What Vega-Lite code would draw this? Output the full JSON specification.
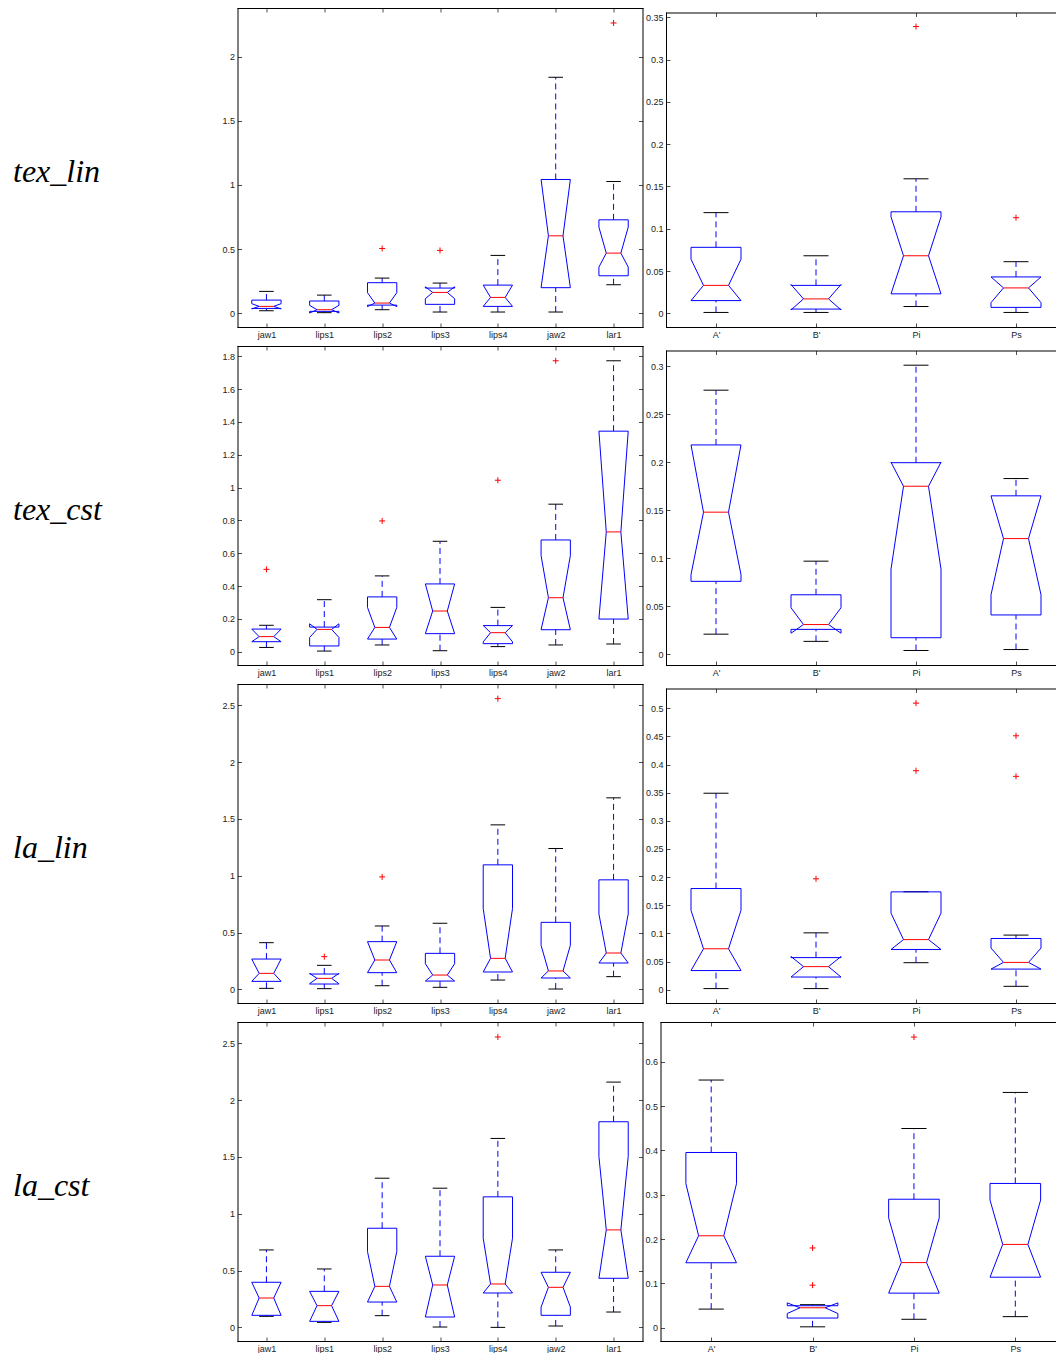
{
"$schema": "https://vega.github.io/schema/vega-lite/v6.json",
"padding": {"left": 12.5, "top": 7, "right": 0, "bottom": 0},
"background": "white",
"config": {
 "view": {"stroke": null},
 "axis": {"domain": true, "domainColor": "#000000", "domainWidth": 1, "domainCap": "square", "grid": false, "tickSize": -4, "tickColor": "#222222", "tickWidth": 0.8, "labelPadding": 7, "labelFont": "Liberation Sans", "labelFontSize": 9, "labelColor": "#222222", "labelAngle": 0, "labelOverlap": false, "labelSeparation": 0},
 "rule": {"strokeWidth": 1}
},
"datasets": {
 "b": [
  {"p":"tl_L","n":"jaw1","lo":0.018,"q1":0.036,"nlo":0.032,"med":0.052,"nhi":0.073,"q3":0.101,"hi":0.169},
  {"p":"tl_L","n":"lips1","lo":0.003,"q1":0.013,"nlo":0.0,"med":0.026,"nhi":0.06,"q3":0.094,"hi":0.14},
  {"p":"tl_L","n":"lips2","lo":0.026,"q1":0.062,"nlo":0.05,"med":0.078,"nhi":0.159,"q3":0.237,"hi":0.273},
  {"p":"tl_L","n":"lips3","lo":0.008,"q1":0.068,"nlo":0.112,"med":0.161,"nhi":0.205,"q3":0.195,"hi":0.234},
  {"p":"tl_L","n":"lips4","lo":0.008,"q1":0.052,"nlo":0.052,"med":0.122,"nhi":0.218,"q3":0.218,"hi":0.45},
  {"p":"tl_L","n":"jaw2","lo":0.008,"q1":0.198,"nlo":0.198,"med":0.603,"nhi":1.043,"q3":1.043,"hi":1.841},
  {"p":"tl_L","n":"lar1","lo":0.221,"q1":0.291,"nlo":0.359,"med":0.468,"nhi":0.671,"q3":0.728,"hi":1.027},
  {"p":"tl_R","n":"A'","lo":0.001,"q1":0.015,"nlo":0.015,"med":0.033,"nhi":0.064,"q3":0.078,"hi":0.119},
  {"p":"tl_R","n":"B'","lo":0.001,"q1":0.005,"nlo":0.004,"med":0.017,"nhi":0.034,"q3":0.033,"hi":0.068},
  {"p":"tl_R","n":"Pi","lo":0.008,"q1":0.023,"nlo":0.023,"med":0.068,"nhi":0.114,"q3":0.12,"hi":0.159},
  {"p":"tl_R","n":"Ps","lo":0.001,"q1":0.007,"nlo":0.0126,"med":0.03,"nhi":0.043,"q3":0.043,"hi":0.061},
  {"p":"tc_L","n":"jaw1","lo":0.026,"q1":0.061,"nlo":0.061,"med":0.092,"nhi":0.138,"q3":0.138,"hi":0.161},
  {"p":"tc_L","n":"lips1","lo":0.004,"q1":0.035,"nlo":0.087,"med":0.136,"nhi":0.17,"q3":0.15,"hi":0.317},
  {"p":"tc_L","n":"lips2","lo":0.041,"q1":0.077,"nlo":0.077,"med":0.148,"nhi":0.27,"q3":0.334,"hi":0.462},
  {"p":"tc_L","n":"lips3","lo":0.006,"q1":0.11,"nlo":0.11,"med":0.248,"nhi":0.413,"q3":0.413,"hi":0.673},
  {"p":"tc_L","n":"lips4","lo":0.031,"q1":0.049,"nlo":0.06,"med":0.116,"nhi":0.16,"q3":0.159,"hi":0.27},
  {"p":"tc_L","n":"jaw2","lo":0.041,"q1":0.134,"nlo":0.134,"med":0.329,"nhi":0.586,"q3":0.681,"hi":0.899},
  {"p":"tc_L","n":"lar1","lo":0.047,"q1":0.199,"nlo":0.199,"med":0.73,"nhi":1.344,"q3":1.344,"hi":1.773},
  {"p":"tc_R","n":"A'","lo":0.021,"q1":0.076,"nlo":0.083,"med":0.148,"nhi":0.218,"q3":0.218,"hi":0.275},
  {"p":"tc_R","n":"B'","lo":0.0135,"q1":0.026,"nlo":0.022,"med":0.031,"nhi":0.0485,"q3":0.062,"hi":0.097},
  {"p":"tc_R","n":"Pi","lo":0.004,"q1":0.0173,"nlo":0.0887,"med":0.175,"nhi":0.2,"q3":0.1995,"hi":0.301},
  {"p":"tc_R","n":"Ps","lo":0.005,"q1":0.041,"nlo":0.062,"med":0.1205,"nhi":0.165,"q3":0.165,"hi":0.183},
  {"p":"ll_L","n":"jaw1","lo":0.009,"q1":0.0705,"nlo":0.0705,"med":0.141,"nhi":0.267,"q3":0.267,"hi":0.411},
  {"p":"ll_L","n":"lips1","lo":0.006,"q1":0.047,"nlo":0.05,"med":0.097,"nhi":0.14,"q3":0.135,"hi":0.2115},
  {"p":"ll_L","n":"lips2","lo":0.032,"q1":0.147,"nlo":0.147,"med":0.2585,"nhi":0.42,"q3":0.42,"hi":0.558},
  {"p":"ll_L","n":"lips3","lo":0.018,"q1":0.073,"nlo":0.073,"med":0.126,"nhi":0.226,"q3":0.317,"hi":0.582},
  {"p":"ll_L","n":"lips4","lo":0.082,"q1":0.153,"nlo":0.153,"med":0.273,"nhi":0.711,"q3":1.096,"hi":1.448},
  {"p":"ll_L","n":"jaw2","lo":0.003,"q1":0.1,"nlo":0.1,"med":0.162,"nhi":0.388,"q3":0.59,"hi":1.24},
  {"p":"ll_L","n":"lar1","lo":0.112,"q1":0.232,"nlo":0.232,"med":0.32,"nhi":0.664,"q3":0.964,"hi":1.686},
  {"p":"ll_R","n":"A'","lo":0.002,"q1":0.034,"nlo":0.034,"med":0.0727,"nhi":0.141,"q3":0.1797,"hi":0.349},
  {"p":"ll_R","n":"B'","lo":0.002,"q1":0.0225,"nlo":0.0225,"med":0.041,"nhi":0.059,"q3":0.057,"hi":0.101},
  {"p":"ll_R","n":"Pi","lo":0.048,"q1":0.0715,"nlo":0.0715,"med":0.089,"nhi":0.136,"q3":0.1738,"hi":0.174},
  {"p":"ll_R","n":"Ps","lo":0.006,"q1":0.0366,"nlo":0.0366,"med":0.0485,"nhi":0.074,"q3":0.091,"hi":0.097},
  {"p":"lc_L","n":"jaw1","lo":0.097,"q1":0.106,"nlo":0.106,"med":0.2585,"nhi":0.397,"q3":0.397,"hi":0.6815},
  {"p":"lc_L","n":"lips1","lo":0.044,"q1":0.053,"nlo":0.053,"med":0.191,"nhi":0.317,"q3":0.317,"hi":0.514},
  {"p":"lc_L","n":"lips2","lo":0.103,"q1":0.223,"nlo":0.223,"med":0.361,"nhi":0.667,"q3":0.8725,"hi":1.313},
  {"p":"lc_L","n":"lips3","lo":0.003,"q1":0.091,"nlo":0.091,"med":0.373,"nhi":0.626,"q3":0.626,"hi":1.225},
  {"p":"lc_L","n":"lips4","lo":0.0,"q1":0.3026,"nlo":0.3026,"med":0.382,"nhi":0.784,"q3":1.149,"hi":1.663},
  {"p":"lc_L","n":"jaw2","lo":0.012,"q1":0.106,"nlo":0.179,"med":0.3525,"nhi":0.485,"q3":0.485,"hi":0.6815},
  {"p":"lc_L","n":"lar1","lo":0.135,"q1":0.432,"nlo":0.432,"med":0.858,"nhi":1.504,"q3":1.81,"hi":2.159},
  {"p":"lc_R","n":"A'","lo":0.042,"q1":0.1466,"nlo":0.1466,"med":0.2075,"nhi":0.325,"q3":0.3955,"hi":0.559},
  {"p":"lc_R","n":"B'","lo":0.002,"q1":0.0218,"nlo":0.032,"med":0.045,"nhi":0.056,"q3":0.0496,"hi":0.052},
  {"p":"lc_R","n":"Pi","lo":0.019,"q1":0.078,"nlo":0.078,"med":0.147,"nhi":0.248,"q3":0.29,"hi":0.4496},
  {"p":"lc_R","n":"Ps","lo":0.025,"q1":0.114,"nlo":0.114,"med":0.188,"nhi":0.288,"q3":0.3256,"hi":0.531}
 ],
 "o": [
  {"p":"tl_L","n":"lips2","v":0.504},
  {"p":"tl_L","n":"lips3","v":0.489},
  {"p":"tl_L","n":"lar1","v":2.265},
  {"p":"tl_R","n":"Pi","v":0.339},
  {"p":"tl_R","n":"Ps","v":0.113},
  {"p":"tc_L","n":"jaw1","v":0.502},
  {"p":"tc_L","n":"lips2","v":0.797},
  {"p":"tc_L","n":"lips4","v":1.045},
  {"p":"tc_L","n":"jaw2","v":1.773},
  {"p":"ll_L","n":"lips1","v":0.288},
  {"p":"ll_L","n":"lips2","v":0.99},
  {"p":"ll_L","n":"lips4","v":2.559},
  {"p":"ll_R","n":"B'","v":0.197},
  {"p":"ll_R","n":"Pi","v":0.509},
  {"p":"ll_R","n":"Pi","v":0.389},
  {"p":"ll_R","n":"Ps","v":0.451},
  {"p":"ll_R","n":"Ps","v":0.379},
  {"p":"lc_L","n":"lips4","v":2.556},
  {"p":"lc_R","n":"B'","v":0.18},
  {"p":"lc_R","n":"B'","v":0.096},
  {"p":"lc_R","n":"Pi","v":0.656}
 ]
},
"bounds": "flush",
"columns": 2,
"spacing": {"row": 19, "column": 23.5},
"concat": [
   {"width": 405, "height": 319, "data": {"name": "b"}, "transform": [{"filter": "datum.p === 'tl_L'"}],
    "layer": [
     {"encoding": {"x": {"field": "n", "type": "nominal", "scale": {"type": "point", "padding": 0.5, "domain": ["jaw1","lips1","lips2","lips3","lips4","jaw2","lar1"]}, "axis": {"title": null, "orient": "bottom"}}},
      "layer": [
       {"mark": {"type": "rule", "color": "#0000ff", "strokeDash": [6,4]}, "encoding": {"y": {"field": "lo", "type": "quantitative", "scale": {"domain": [-0.109, 2.382], "nice": false, "zero": false}, "axis": {"values": [0,0.5,1,1.5,2], "tickCount": 30, "format": "~g", "title": "tex_lin", "titleAngle": 0, "titleAlign": "left", "titleBaseline": "alphabetic", "titleX": -225, "titleY": 173.5, "titleFont": "Liberation Serif", "titleFontStyle": "italic", "titleFontWeight": "normal", "titleFontSize": 32, "titleColor": "#000000"}}, "y2": {"field": "q1"}}},
       {"mark": {"type": "rule", "color": "#0000ff", "strokeDash": [6,4]}, "encoding": {"y": {"field": "q3", "type": "quantitative"}, "y2": {"field": "hi"}}},
       {"mark": {"type": "rule", "color": "#000000", "xOffset": -7.3, "x2Offset": 7.3}, "encoding": {"y": {"field": "lo", "type": "quantitative"}, "x2": {"field": "n"}}},
       {"mark": {"type": "rule", "color": "#000000", "xOffset": -7.3, "x2Offset": 7.3}, "encoding": {"y": {"field": "hi", "type": "quantitative"}, "x2": {"field": "n"}}},
       {"mark": {"type": "rule", "color": "#0000ff", "xOffset": -14.65}, "encoding": {"y": {"field": "q1", "type": "quantitative"}, "y2": {"field": "nlo"}}},
       {"mark": {"type": "rule", "color": "#0000ff", "xOffset": 14.65}, "encoding": {"y": {"field": "q1", "type": "quantitative"}, "y2": {"field": "nlo"}}},
       {"mark": {"type": "rule", "color": "#0000ff", "xOffset": -14.65, "x2Offset": -7.3}, "encoding": {"y": {"field": "nlo", "type": "quantitative"}, "y2": {"field": "med"}, "x2": {"field": "n"}}},
       {"mark": {"type": "rule", "color": "#0000ff", "xOffset": 14.65, "x2Offset": 7.3}, "encoding": {"y": {"field": "nlo", "type": "quantitative"}, "y2": {"field": "med"}, "x2": {"field": "n"}}},
       {"mark": {"type": "rule", "color": "#0000ff", "xOffset": -7.3, "x2Offset": -14.65}, "encoding": {"y": {"field": "med", "type": "quantitative"}, "y2": {"field": "nhi"}, "x2": {"field": "n"}}},
       {"mark": {"type": "rule", "color": "#0000ff", "xOffset": 7.3, "x2Offset": 14.65}, "encoding": {"y": {"field": "med", "type": "quantitative"}, "y2": {"field": "nhi"}, "x2": {"field": "n"}}},
       {"mark": {"type": "rule", "color": "#0000ff", "xOffset": -14.65}, "encoding": {"y": {"field": "nhi", "type": "quantitative"}, "y2": {"field": "q3"}}},
       {"mark": {"type": "rule", "color": "#0000ff", "xOffset": 14.65}, "encoding": {"y": {"field": "nhi", "type": "quantitative"}, "y2": {"field": "q3"}}},
       {"mark": {"type": "rule", "color": "#0000ff", "xOffset": -14.65, "x2Offset": 14.65}, "encoding": {"y": {"field": "q1", "type": "quantitative"}, "x2": {"field": "n"}}},
       {"mark": {"type": "rule", "color": "#0000ff", "xOffset": -14.65, "x2Offset": 14.65}, "encoding": {"y": {"field": "q3", "type": "quantitative"}, "x2": {"field": "n"}}},
       {"mark": {"type": "rule", "color": "#ff0000", "xOffset": -7.3, "x2Offset": 7.3}, "encoding": {"y": {"field": "med", "type": "quantitative"}, "x2": {"field": "n"}}},
       {"data": {"name": "o"}, "transform": [{"filter": "datum.p === 'tl_L'"}], "mark": {"type": "point", "shape": "M-1,0L1,0M0,-1L0,1", "size": 36, "filled": false, "color": "#ff0000", "strokeWidth": 1, "opacity": 1}, "encoding": {"y": {"field": "v", "type": "quantitative"}}}
      ]},
     {"mark": {"type": "point", "opacity": 0}, "encoding": {"x": {"field": "n", "type": "nominal", "axis": {"orient": "top", "labels": false, "title": null}}, "y": {"field": "med", "type": "quantitative", "axis": {"orient": "right", "labels": false, "title": null, "tickCount": 30, "values": [0,0.5,1,1.5,2]}}}}
    ],
    "resolve": {"axis": {"x": "independent", "y": "independent"}}},
    {"width": 391, "height": 319, "data": {"name": "b"}, "transform": [{"filter": "datum.p === 'tl_R'"}],
     "layer": [
      {"encoding": {"x": {"field": "n", "type": "nominal", "scale": {"type": "point", "padding": 0.5, "range": [0, 400], "domain": ["A'","B'","Pi","Ps"]}, "axis": {"title": null, "orient": "bottom"}}},
       "layer": [
        {"mark": {"type": "rule", "color": "#0000ff", "strokeDash": [6,4]}, "encoding": {"y": {"field": "lo", "type": "quantitative", "scale": {"domain": [-0.0162, 0.3556], "range": [319, 4.5], "nice": false, "zero": false}, "axis": {"values": [0,0.05,0.1,0.15,0.2,0.25,0.3,0.35], "tickCount": 30, "format": "~g", "title": null}}, "y2": {"field": "q1"}}},
        {"mark": {"type": "rule", "color": "#0000ff", "strokeDash": [6,4]}, "encoding": {"y": {"field": "q3", "type": "quantitative"}, "y2": {"field": "hi"}}},
        {"mark": {"type": "rule", "color": "#000000", "xOffset": -12.5, "x2Offset": 12.5}, "encoding": {"y": {"field": "lo", "type": "quantitative"}, "x2": {"field": "n"}}},
        {"mark": {"type": "rule", "color": "#000000", "xOffset": -12.5, "x2Offset": 12.5}, "encoding": {"y": {"field": "hi", "type": "quantitative"}, "x2": {"field": "n"}}},
        {"mark": {"type": "rule", "color": "#0000ff", "xOffset": -25}, "encoding": {"y": {"field": "q1", "type": "quantitative"}, "y2": {"field": "nlo"}}},
        {"mark": {"type": "rule", "color": "#0000ff", "xOffset": 25}, "encoding": {"y": {"field": "q1", "type": "quantitative"}, "y2": {"field": "nlo"}}},
        {"mark": {"type": "rule", "color": "#0000ff", "xOffset": -25, "x2Offset": -12.5}, "encoding": {"y": {"field": "nlo", "type": "quantitative"}, "y2": {"field": "med"}, "x2": {"field": "n"}}},
        {"mark": {"type": "rule", "color": "#0000ff", "xOffset": 25, "x2Offset": 12.5}, "encoding": {"y": {"field": "nlo", "type": "quantitative"}, "y2": {"field": "med"}, "x2": {"field": "n"}}},
        {"mark": {"type": "rule", "color": "#0000ff", "xOffset": -12.5, "x2Offset": -25}, "encoding": {"y": {"field": "med", "type": "quantitative"}, "y2": {"field": "nhi"}, "x2": {"field": "n"}}},
        {"mark": {"type": "rule", "color": "#0000ff", "xOffset": 12.5, "x2Offset": 25}, "encoding": {"y": {"field": "med", "type": "quantitative"}, "y2": {"field": "nhi"}, "x2": {"field": "n"}}},
        {"mark": {"type": "rule", "color": "#0000ff", "xOffset": -25}, "encoding": {"y": {"field": "nhi", "type": "quantitative"}, "y2": {"field": "q3"}}},
        {"mark": {"type": "rule", "color": "#0000ff", "xOffset": 25}, "encoding": {"y": {"field": "nhi", "type": "quantitative"}, "y2": {"field": "q3"}}},
        {"mark": {"type": "rule", "color": "#0000ff", "xOffset": -25, "x2Offset": 25}, "encoding": {"y": {"field": "q1", "type": "quantitative"}, "x2": {"field": "n"}}},
        {"mark": {"type": "rule", "color": "#0000ff", "xOffset": -25, "x2Offset": 25}, "encoding": {"y": {"field": "q3", "type": "quantitative"}, "x2": {"field": "n"}}},
        {"mark": {"type": "rule", "color": "#ff0000", "xOffset": -12.5, "x2Offset": 12.5}, "encoding": {"y": {"field": "med", "type": "quantitative"}, "x2": {"field": "n"}}},
        {"data": {"name": "o"}, "transform": [{"filter": "datum.p === 'tl_R'"}], "mark": {"type": "point", "shape": "M-1,0L1,0M0,-1L0,1", "size": 36, "filled": false, "color": "#ff0000", "strokeWidth": 1, "opacity": 1}, "encoding": {"y": {"field": "v", "type": "quantitative"}}}
       ]},
      {"mark": {"type": "point", "opacity": 0}, "encoding": {"x": {"field": "n", "type": "nominal", "axis": {"orient": "top", "labels": false, "title": null, "offset": -4.5}}}}
     ],
     "resolve": {"axis": {"x": "independent", "y": "independent"}}},
   {"width": 405, "height": 319, "data": {"name": "b"}, "transform": [{"filter": "datum.p === 'tc_L'"}],
    "layer": [
     {"encoding": {"x": {"field": "n", "type": "nominal", "scale": {"type": "point", "padding": 0.5, "domain": ["jaw1","lips1","lips2","lips3","lips4","jaw2","lar1"]}, "axis": {"title": null, "orient": "bottom"}}},
      "layer": [
       {"mark": {"type": "rule", "color": "#0000ff", "strokeDash": [6,4]}, "encoding": {"y": {"field": "lo", "type": "quantitative", "scale": {"domain": [-0.081, 1.863], "nice": false, "zero": false}, "axis": {"values": [0,0.2,0.4,0.6,0.8,1,1.2,1.4,1.6,1.8], "tickCount": 30, "format": "~g", "title": "tex_cst", "titleAngle": 0, "titleAlign": "left", "titleBaseline": "alphabetic", "titleX": -225, "titleY": 173.5, "titleFont": "Liberation Serif", "titleFontStyle": "italic", "titleFontWeight": "normal", "titleFontSize": 32, "titleColor": "#000000"}}, "y2": {"field": "q1"}}},
       {"mark": {"type": "rule", "color": "#0000ff", "strokeDash": [6,4]}, "encoding": {"y": {"field": "q3", "type": "quantitative"}, "y2": {"field": "hi"}}},
       {"mark": {"type": "rule", "color": "#000000", "xOffset": -7.3, "x2Offset": 7.3}, "encoding": {"y": {"field": "lo", "type": "quantitative"}, "x2": {"field": "n"}}},
       {"mark": {"type": "rule", "color": "#000000", "xOffset": -7.3, "x2Offset": 7.3}, "encoding": {"y": {"field": "hi", "type": "quantitative"}, "x2": {"field": "n"}}},
       {"mark": {"type": "rule", "color": "#0000ff", "xOffset": -14.65}, "encoding": {"y": {"field": "q1", "type": "quantitative"}, "y2": {"field": "nlo"}}},
       {"mark": {"type": "rule", "color": "#0000ff", "xOffset": 14.65}, "encoding": {"y": {"field": "q1", "type": "quantitative"}, "y2": {"field": "nlo"}}},
       {"mark": {"type": "rule", "color": "#0000ff", "xOffset": -14.65, "x2Offset": -7.3}, "encoding": {"y": {"field": "nlo", "type": "quantitative"}, "y2": {"field": "med"}, "x2": {"field": "n"}}},
       {"mark": {"type": "rule", "color": "#0000ff", "xOffset": 14.65, "x2Offset": 7.3}, "encoding": {"y": {"field": "nlo", "type": "quantitative"}, "y2": {"field": "med"}, "x2": {"field": "n"}}},
       {"mark": {"type": "rule", "color": "#0000ff", "xOffset": -7.3, "x2Offset": -14.65}, "encoding": {"y": {"field": "med", "type": "quantitative"}, "y2": {"field": "nhi"}, "x2": {"field": "n"}}},
       {"mark": {"type": "rule", "color": "#0000ff", "xOffset": 7.3, "x2Offset": 14.65}, "encoding": {"y": {"field": "med", "type": "quantitative"}, "y2": {"field": "nhi"}, "x2": {"field": "n"}}},
       {"mark": {"type": "rule", "color": "#0000ff", "xOffset": -14.65}, "encoding": {"y": {"field": "nhi", "type": "quantitative"}, "y2": {"field": "q3"}}},
       {"mark": {"type": "rule", "color": "#0000ff", "xOffset": 14.65}, "encoding": {"y": {"field": "nhi", "type": "quantitative"}, "y2": {"field": "q3"}}},
       {"mark": {"type": "rule", "color": "#0000ff", "xOffset": -14.65, "x2Offset": 14.65}, "encoding": {"y": {"field": "q1", "type": "quantitative"}, "x2": {"field": "n"}}},
       {"mark": {"type": "rule", "color": "#0000ff", "xOffset": -14.65, "x2Offset": 14.65}, "encoding": {"y": {"field": "q3", "type": "quantitative"}, "x2": {"field": "n"}}},
       {"mark": {"type": "rule", "color": "#ff0000", "xOffset": -7.3, "x2Offset": 7.3}, "encoding": {"y": {"field": "med", "type": "quantitative"}, "x2": {"field": "n"}}},
       {"data": {"name": "o"}, "transform": [{"filter": "datum.p === 'tc_L'"}], "mark": {"type": "point", "shape": "M-1,0L1,0M0,-1L0,1", "size": 36, "filled": false, "color": "#ff0000", "strokeWidth": 1, "opacity": 1}, "encoding": {"y": {"field": "v", "type": "quantitative"}}}
      ]},
     {"mark": {"type": "point", "opacity": 0}, "encoding": {"x": {"field": "n", "type": "nominal", "axis": {"orient": "top", "labels": false, "title": null}}, "y": {"field": "med", "type": "quantitative", "axis": {"orient": "right", "labels": false, "title": null, "tickCount": 30, "values": [0,0.2,0.4,0.6,0.8,1,1.2,1.4,1.6,1.8]}}}}
    ],
    "resolve": {"axis": {"x": "independent", "y": "independent"}}},
    {"width": 391, "height": 319, "data": {"name": "b"}, "transform": [{"filter": "datum.p === 'tc_R'"}],
     "layer": [
      {"encoding": {"x": {"field": "n", "type": "nominal", "scale": {"type": "point", "padding": 0.5, "range": [0, 400], "domain": ["A'","B'","Pi","Ps"]}, "axis": {"title": null, "orient": "bottom"}}},
       "layer": [
        {"mark": {"type": "rule", "color": "#0000ff", "strokeDash": [6,4]}, "encoding": {"y": {"field": "lo", "type": "quantitative", "scale": {"domain": [-0.0111, 0.3163], "range": [319, 4.5], "nice": false, "zero": false}, "axis": {"values": [0,0.05,0.1,0.15,0.2,0.25,0.3], "tickCount": 30, "format": "~g", "title": null}}, "y2": {"field": "q1"}}},
        {"mark": {"type": "rule", "color": "#0000ff", "strokeDash": [6,4]}, "encoding": {"y": {"field": "q3", "type": "quantitative"}, "y2": {"field": "hi"}}},
        {"mark": {"type": "rule", "color": "#000000", "xOffset": -12.5, "x2Offset": 12.5}, "encoding": {"y": {"field": "lo", "type": "quantitative"}, "x2": {"field": "n"}}},
        {"mark": {"type": "rule", "color": "#000000", "xOffset": -12.5, "x2Offset": 12.5}, "encoding": {"y": {"field": "hi", "type": "quantitative"}, "x2": {"field": "n"}}},
        {"mark": {"type": "rule", "color": "#0000ff", "xOffset": -25}, "encoding": {"y": {"field": "q1", "type": "quantitative"}, "y2": {"field": "nlo"}}},
        {"mark": {"type": "rule", "color": "#0000ff", "xOffset": 25}, "encoding": {"y": {"field": "q1", "type": "quantitative"}, "y2": {"field": "nlo"}}},
        {"mark": {"type": "rule", "color": "#0000ff", "xOffset": -25, "x2Offset": -12.5}, "encoding": {"y": {"field": "nlo", "type": "quantitative"}, "y2": {"field": "med"}, "x2": {"field": "n"}}},
        {"mark": {"type": "rule", "color": "#0000ff", "xOffset": 25, "x2Offset": 12.5}, "encoding": {"y": {"field": "nlo", "type": "quantitative"}, "y2": {"field": "med"}, "x2": {"field": "n"}}},
        {"mark": {"type": "rule", "color": "#0000ff", "xOffset": -12.5, "x2Offset": -25}, "encoding": {"y": {"field": "med", "type": "quantitative"}, "y2": {"field": "nhi"}, "x2": {"field": "n"}}},
        {"mark": {"type": "rule", "color": "#0000ff", "xOffset": 12.5, "x2Offset": 25}, "encoding": {"y": {"field": "med", "type": "quantitative"}, "y2": {"field": "nhi"}, "x2": {"field": "n"}}},
        {"mark": {"type": "rule", "color": "#0000ff", "xOffset": -25}, "encoding": {"y": {"field": "nhi", "type": "quantitative"}, "y2": {"field": "q3"}}},
        {"mark": {"type": "rule", "color": "#0000ff", "xOffset": 25}, "encoding": {"y": {"field": "nhi", "type": "quantitative"}, "y2": {"field": "q3"}}},
        {"mark": {"type": "rule", "color": "#0000ff", "xOffset": -25, "x2Offset": 25}, "encoding": {"y": {"field": "q1", "type": "quantitative"}, "x2": {"field": "n"}}},
        {"mark": {"type": "rule", "color": "#0000ff", "xOffset": -25, "x2Offset": 25}, "encoding": {"y": {"field": "q3", "type": "quantitative"}, "x2": {"field": "n"}}},
        {"mark": {"type": "rule", "color": "#ff0000", "xOffset": -12.5, "x2Offset": 12.5}, "encoding": {"y": {"field": "med", "type": "quantitative"}, "x2": {"field": "n"}}},
        {"data": {"name": "o"}, "transform": [{"filter": "datum.p === 'tc_R'"}], "mark": {"type": "point", "shape": "M-1,0L1,0M0,-1L0,1", "size": 36, "filled": false, "color": "#ff0000", "strokeWidth": 1, "opacity": 1}, "encoding": {"y": {"field": "v", "type": "quantitative"}}}
       ]},
      {"mark": {"type": "point", "opacity": 0}, "encoding": {"x": {"field": "n", "type": "nominal", "axis": {"orient": "top", "labels": false, "title": null, "offset": -4.5}}}}
     ],
     "resolve": {"axis": {"x": "independent", "y": "independent"}}},
   {"width": 405, "height": 319, "data": {"name": "b"}, "transform": [{"filter": "datum.p === 'll_L'"}],
    "layer": [
     {"encoding": {"x": {"field": "n", "type": "nominal", "scale": {"type": "point", "padding": 0.5, "domain": ["jaw1","lips1","lips2","lips3","lips4","jaw2","lar1"]}, "axis": {"title": null, "orient": "bottom"}}},
      "layer": [
       {"mark": {"type": "rule", "color": "#0000ff", "strokeDash": [6,4]}, "encoding": {"y": {"field": "lo", "type": "quantitative", "scale": {"domain": [-0.12, 2.688], "nice": false, "zero": false}, "axis": {"values": [0,0.5,1,1.5,2,2.5], "tickCount": 30, "format": "~g", "title": "la_lin", "titleAngle": 0, "titleAlign": "left", "titleBaseline": "alphabetic", "titleX": -225, "titleY": 173.5, "titleFont": "Liberation Serif", "titleFontStyle": "italic", "titleFontWeight": "normal", "titleFontSize": 32, "titleColor": "#000000"}}, "y2": {"field": "q1"}}},
       {"mark": {"type": "rule", "color": "#0000ff", "strokeDash": [6,4]}, "encoding": {"y": {"field": "q3", "type": "quantitative"}, "y2": {"field": "hi"}}},
       {"mark": {"type": "rule", "color": "#000000", "xOffset": -7.3, "x2Offset": 7.3}, "encoding": {"y": {"field": "lo", "type": "quantitative"}, "x2": {"field": "n"}}},
       {"mark": {"type": "rule", "color": "#000000", "xOffset": -7.3, "x2Offset": 7.3}, "encoding": {"y": {"field": "hi", "type": "quantitative"}, "x2": {"field": "n"}}},
       {"mark": {"type": "rule", "color": "#0000ff", "xOffset": -14.65}, "encoding": {"y": {"field": "q1", "type": "quantitative"}, "y2": {"field": "nlo"}}},
       {"mark": {"type": "rule", "color": "#0000ff", "xOffset": 14.65}, "encoding": {"y": {"field": "q1", "type": "quantitative"}, "y2": {"field": "nlo"}}},
       {"mark": {"type": "rule", "color": "#0000ff", "xOffset": -14.65, "x2Offset": -7.3}, "encoding": {"y": {"field": "nlo", "type": "quantitative"}, "y2": {"field": "med"}, "x2": {"field": "n"}}},
       {"mark": {"type": "rule", "color": "#0000ff", "xOffset": 14.65, "x2Offset": 7.3}, "encoding": {"y": {"field": "nlo", "type": "quantitative"}, "y2": {"field": "med"}, "x2": {"field": "n"}}},
       {"mark": {"type": "rule", "color": "#0000ff", "xOffset": -7.3, "x2Offset": -14.65}, "encoding": {"y": {"field": "med", "type": "quantitative"}, "y2": {"field": "nhi"}, "x2": {"field": "n"}}},
       {"mark": {"type": "rule", "color": "#0000ff", "xOffset": 7.3, "x2Offset": 14.65}, "encoding": {"y": {"field": "med", "type": "quantitative"}, "y2": {"field": "nhi"}, "x2": {"field": "n"}}},
       {"mark": {"type": "rule", "color": "#0000ff", "xOffset": -14.65}, "encoding": {"y": {"field": "nhi", "type": "quantitative"}, "y2": {"field": "q3"}}},
       {"mark": {"type": "rule", "color": "#0000ff", "xOffset": 14.65}, "encoding": {"y": {"field": "nhi", "type": "quantitative"}, "y2": {"field": "q3"}}},
       {"mark": {"type": "rule", "color": "#0000ff", "xOffset": -14.65, "x2Offset": 14.65}, "encoding": {"y": {"field": "q1", "type": "quantitative"}, "x2": {"field": "n"}}},
       {"mark": {"type": "rule", "color": "#0000ff", "xOffset": -14.65, "x2Offset": 14.65}, "encoding": {"y": {"field": "q3", "type": "quantitative"}, "x2": {"field": "n"}}},
       {"mark": {"type": "rule", "color": "#ff0000", "xOffset": -7.3, "x2Offset": 7.3}, "encoding": {"y": {"field": "med", "type": "quantitative"}, "x2": {"field": "n"}}},
       {"data": {"name": "o"}, "transform": [{"filter": "datum.p === 'll_L'"}], "mark": {"type": "point", "shape": "M-1,0L1,0M0,-1L0,1", "size": 36, "filled": false, "color": "#ff0000", "strokeWidth": 1, "opacity": 1}, "encoding": {"y": {"field": "v", "type": "quantitative"}}}
      ]},
     {"mark": {"type": "point", "opacity": 0}, "encoding": {"x": {"field": "n", "type": "nominal", "axis": {"orient": "top", "labels": false, "title": null}}, "y": {"field": "med", "type": "quantitative", "axis": {"orient": "right", "labels": false, "title": null, "tickCount": 30, "values": [0,0.5,1,1.5,2,2.5]}}}}
    ],
    "resolve": {"axis": {"x": "independent", "y": "independent"}}},
    {"width": 391, "height": 319, "data": {"name": "b"}, "transform": [{"filter": "datum.p === 'll_R'"}],
     "layer": [
      {"encoding": {"x": {"field": "n", "type": "nominal", "scale": {"type": "point", "padding": 0.5, "range": [0, 400], "domain": ["A'","B'","Pi","Ps"]}, "axis": {"title": null, "orient": "bottom"}}},
       "layer": [
        {"mark": {"type": "rule", "color": "#0000ff", "strokeDash": [6,4]}, "encoding": {"y": {"field": "lo", "type": "quantitative", "scale": {"domain": [-0.0236, 0.535], "range": [319, 4.5], "nice": false, "zero": false}, "axis": {"values": [0,0.05,0.1,0.15,0.2,0.25,0.3,0.35,0.4,0.45,0.5], "tickCount": 30, "format": "~g", "title": null}}, "y2": {"field": "q1"}}},
        {"mark": {"type": "rule", "color": "#0000ff", "strokeDash": [6,4]}, "encoding": {"y": {"field": "q3", "type": "quantitative"}, "y2": {"field": "hi"}}},
        {"mark": {"type": "rule", "color": "#000000", "xOffset": -12.5, "x2Offset": 12.5}, "encoding": {"y": {"field": "lo", "type": "quantitative"}, "x2": {"field": "n"}}},
        {"mark": {"type": "rule", "color": "#000000", "xOffset": -12.5, "x2Offset": 12.5}, "encoding": {"y": {"field": "hi", "type": "quantitative"}, "x2": {"field": "n"}}},
        {"mark": {"type": "rule", "color": "#0000ff", "xOffset": -25}, "encoding": {"y": {"field": "q1", "type": "quantitative"}, "y2": {"field": "nlo"}}},
        {"mark": {"type": "rule", "color": "#0000ff", "xOffset": 25}, "encoding": {"y": {"field": "q1", "type": "quantitative"}, "y2": {"field": "nlo"}}},
        {"mark": {"type": "rule", "color": "#0000ff", "xOffset": -25, "x2Offset": -12.5}, "encoding": {"y": {"field": "nlo", "type": "quantitative"}, "y2": {"field": "med"}, "x2": {"field": "n"}}},
        {"mark": {"type": "rule", "color": "#0000ff", "xOffset": 25, "x2Offset": 12.5}, "encoding": {"y": {"field": "nlo", "type": "quantitative"}, "y2": {"field": "med"}, "x2": {"field": "n"}}},
        {"mark": {"type": "rule", "color": "#0000ff", "xOffset": -12.5, "x2Offset": -25}, "encoding": {"y": {"field": "med", "type": "quantitative"}, "y2": {"field": "nhi"}, "x2": {"field": "n"}}},
        {"mark": {"type": "rule", "color": "#0000ff", "xOffset": 12.5, "x2Offset": 25}, "encoding": {"y": {"field": "med", "type": "quantitative"}, "y2": {"field": "nhi"}, "x2": {"field": "n"}}},
        {"mark": {"type": "rule", "color": "#0000ff", "xOffset": -25}, "encoding": {"y": {"field": "nhi", "type": "quantitative"}, "y2": {"field": "q3"}}},
        {"mark": {"type": "rule", "color": "#0000ff", "xOffset": 25}, "encoding": {"y": {"field": "nhi", "type": "quantitative"}, "y2": {"field": "q3"}}},
        {"mark": {"type": "rule", "color": "#0000ff", "xOffset": -25, "x2Offset": 25}, "encoding": {"y": {"field": "q1", "type": "quantitative"}, "x2": {"field": "n"}}},
        {"mark": {"type": "rule", "color": "#0000ff", "xOffset": -25, "x2Offset": 25}, "encoding": {"y": {"field": "q3", "type": "quantitative"}, "x2": {"field": "n"}}},
        {"mark": {"type": "rule", "color": "#ff0000", "xOffset": -12.5, "x2Offset": 12.5}, "encoding": {"y": {"field": "med", "type": "quantitative"}, "x2": {"field": "n"}}},
        {"data": {"name": "o"}, "transform": [{"filter": "datum.p === 'll_R'"}], "mark": {"type": "point", "shape": "M-1,0L1,0M0,-1L0,1", "size": 36, "filled": false, "color": "#ff0000", "strokeWidth": 1, "opacity": 1}, "encoding": {"y": {"field": "v", "type": "quantitative"}}}
       ]},
      {"mark": {"type": "point", "opacity": 0}, "encoding": {"x": {"field": "n", "type": "nominal", "axis": {"orient": "top", "labels": false, "title": null, "offset": -4.5}}}}
     ],
     "resolve": {"axis": {"x": "independent", "y": "independent"}}},
  {"width": 405, "height": 319, "data": {"name": "b"}, "transform": [{"filter": "datum.p === 'lc_L'"}],
   "layer": [
    {"encoding": {"x": {"field": "n", "type": "nominal", "scale": {"type": "point", "padding": 0.5, "domain": ["jaw1","lips1","lips2","lips3","lips4","jaw2","lar1"]}, "axis": {"title": null, "orient": "bottom"}}},
     "layer": [
      {"mark": {"type": "rule", "color": "#0000ff", "strokeDash": [6,4]}, "encoding": {"y": {"field": "lo", "type": "quantitative", "scale": {"domain": [-0.12, 2.688], "nice": false, "zero": false}, "axis": {"values": [0,0.5,1,1.5,2,2.5], "tickCount": 30, "format": "~g", "title": "la_cst", "titleAngle": 0, "titleAlign": "left", "titleBaseline": "alphabetic", "titleX": -225, "titleY": 173.5, "titleFont": "Liberation Serif", "titleFontStyle": "italic", "titleFontWeight": "normal", "titleFontSize": 32, "titleColor": "#000000"}}, "y2": {"field": "q1"}}},
      {"mark": {"type": "rule", "color": "#0000ff", "strokeDash": [6,4]}, "encoding": {"y": {"field": "q3", "type": "quantitative"}, "y2": {"field": "hi"}}},
      {"mark": {"type": "rule", "color": "#000000", "xOffset": -7.3, "x2Offset": 7.3}, "encoding": {"y": {"field": "lo", "type": "quantitative"}, "x2": {"field": "n"}}},
      {"mark": {"type": "rule", "color": "#000000", "xOffset": -7.3, "x2Offset": 7.3}, "encoding": {"y": {"field": "hi", "type": "quantitative"}, "x2": {"field": "n"}}},
      {"mark": {"type": "rule", "color": "#0000ff", "xOffset": -14.65}, "encoding": {"y": {"field": "q1", "type": "quantitative"}, "y2": {"field": "nlo"}}},
      {"mark": {"type": "rule", "color": "#0000ff", "xOffset": 14.65}, "encoding": {"y": {"field": "q1", "type": "quantitative"}, "y2": {"field": "nlo"}}},
      {"mark": {"type": "rule", "color": "#0000ff", "xOffset": -14.65, "x2Offset": -7.3}, "encoding": {"y": {"field": "nlo", "type": "quantitative"}, "y2": {"field": "med"}, "x2": {"field": "n"}}},
      {"mark": {"type": "rule", "color": "#0000ff", "xOffset": 14.65, "x2Offset": 7.3}, "encoding": {"y": {"field": "nlo", "type": "quantitative"}, "y2": {"field": "med"}, "x2": {"field": "n"}}},
      {"mark": {"type": "rule", "color": "#0000ff", "xOffset": -7.3, "x2Offset": -14.65}, "encoding": {"y": {"field": "med", "type": "quantitative"}, "y2": {"field": "nhi"}, "x2": {"field": "n"}}},
      {"mark": {"type": "rule", "color": "#0000ff", "xOffset": 7.3, "x2Offset": 14.65}, "encoding": {"y": {"field": "med", "type": "quantitative"}, "y2": {"field": "nhi"}, "x2": {"field": "n"}}},
      {"mark": {"type": "rule", "color": "#0000ff", "xOffset": -14.65}, "encoding": {"y": {"field": "nhi", "type": "quantitative"}, "y2": {"field": "q3"}}},
      {"mark": {"type": "rule", "color": "#0000ff", "xOffset": 14.65}, "encoding": {"y": {"field": "nhi", "type": "quantitative"}, "y2": {"field": "q3"}}},
      {"mark": {"type": "rule", "color": "#0000ff", "xOffset": -14.65, "x2Offset": 14.65}, "encoding": {"y": {"field": "q1", "type": "quantitative"}, "x2": {"field": "n"}}},
      {"mark": {"type": "rule", "color": "#0000ff", "xOffset": -14.65, "x2Offset": 14.65}, "encoding": {"y": {"field": "q3", "type": "quantitative"}, "x2": {"field": "n"}}},
      {"mark": {"type": "rule", "color": "#ff0000", "xOffset": -7.3, "x2Offset": 7.3}, "encoding": {"y": {"field": "med", "type": "quantitative"}, "x2": {"field": "n"}}},
      {"data": {"name": "o"}, "transform": [{"filter": "datum.p === 'lc_L'"}], "mark": {"type": "point", "shape": "M-1,0L1,0M0,-1L0,1", "size": 36, "filled": false, "color": "#ff0000", "strokeWidth": 1, "opacity": 1}, "encoding": {"y": {"field": "v", "type": "quantitative"}}}
     ]},
    {"mark": {"type": "point", "opacity": 0}, "encoding": {"x": {"field": "n", "type": "nominal", "axis": {"orient": "top", "labels": false, "title": null}}, "y": {"field": "med", "type": "quantitative", "axis": {"orient": "right", "labels": false, "title": null, "tickCount": 30, "values": [0,0.5,1,1.5,2,2.5]}}}}
   ],
   "resolve": {"axis": {"x": "independent", "y": "independent"}}},
  {"width": 391, "height": 319, "data": {"name": "b"}, "transform": [{"filter": "datum.p === 'lc_R'"}],
   "layer": [
    {"encoding": {"x": {"field": "n", "type": "nominal", "scale": {"type": "point", "padding": 0.5, "range": [-5.5, 400], "domain": ["A'","B'","Pi","Ps"]}, "axis": {"title": null, "orient": "bottom"}}},
     "layer": [
      {"mark": {"type": "rule", "color": "#0000ff", "strokeDash": [6,4]}, "encoding": {"y": {"field": "lo", "type": "quantitative", "scale": {"domain": [-0.03, 0.69], "nice": false, "zero": false}, "axis": {"values": [0,0.1,0.2,0.3,0.4,0.5,0.6], "tickCount": 30, "format": "~g", "title": null, "offset": 5.5}}, "y2": {"field": "q1"}}},
      {"mark": {"type": "rule", "color": "#0000ff", "strokeDash": [6,4]}, "encoding": {"y": {"field": "q3", "type": "quantitative"}, "y2": {"field": "hi"}}},
      {"mark": {"type": "rule", "color": "#000000", "xOffset": -12.6, "x2Offset": 12.6}, "encoding": {"y": {"field": "lo", "type": "quantitative"}, "x2": {"field": "n"}}},
      {"mark": {"type": "rule", "color": "#000000", "xOffset": -12.6, "x2Offset": 12.6}, "encoding": {"y": {"field": "hi", "type": "quantitative"}, "x2": {"field": "n"}}},
      {"mark": {"type": "rule", "color": "#0000ff", "xOffset": -25.3}, "encoding": {"y": {"field": "q1", "type": "quantitative"}, "y2": {"field": "nlo"}}},
      {"mark": {"type": "rule", "color": "#0000ff", "xOffset": 25.3}, "encoding": {"y": {"field": "q1", "type": "quantitative"}, "y2": {"field": "nlo"}}},
      {"mark": {"type": "rule", "color": "#0000ff", "xOffset": -25.3, "x2Offset": -12.6}, "encoding": {"y": {"field": "nlo", "type": "quantitative"}, "y2": {"field": "med"}, "x2": {"field": "n"}}},
      {"mark": {"type": "rule", "color": "#0000ff", "xOffset": 25.3, "x2Offset": 12.6}, "encoding": {"y": {"field": "nlo", "type": "quantitative"}, "y2": {"field": "med"}, "x2": {"field": "n"}}},
      {"mark": {"type": "rule", "color": "#0000ff", "xOffset": -12.6, "x2Offset": -25.3}, "encoding": {"y": {"field": "med", "type": "quantitative"}, "y2": {"field": "nhi"}, "x2": {"field": "n"}}},
      {"mark": {"type": "rule", "color": "#0000ff", "xOffset": 12.6, "x2Offset": 25.3}, "encoding": {"y": {"field": "med", "type": "quantitative"}, "y2": {"field": "nhi"}, "x2": {"field": "n"}}},
      {"mark": {"type": "rule", "color": "#0000ff", "xOffset": -25.3}, "encoding": {"y": {"field": "nhi", "type": "quantitative"}, "y2": {"field": "q3"}}},
      {"mark": {"type": "rule", "color": "#0000ff", "xOffset": 25.3}, "encoding": {"y": {"field": "nhi", "type": "quantitative"}, "y2": {"field": "q3"}}},
      {"mark": {"type": "rule", "color": "#0000ff", "xOffset": -25.3, "x2Offset": 25.3}, "encoding": {"y": {"field": "q1", "type": "quantitative"}, "x2": {"field": "n"}}},
      {"mark": {"type": "rule", "color": "#0000ff", "xOffset": -25.3, "x2Offset": 25.3}, "encoding": {"y": {"field": "q3", "type": "quantitative"}, "x2": {"field": "n"}}},
      {"mark": {"type": "rule", "color": "#ff0000", "xOffset": -12.6, "x2Offset": 12.6}, "encoding": {"y": {"field": "med", "type": "quantitative"}, "x2": {"field": "n"}}},
      {"data": {"name": "o"}, "transform": [{"filter": "datum.p === 'lc_R'"}], "mark": {"type": "point", "shape": "M-1,0L1,0M0,-1L0,1", "size": 36, "filled": false, "color": "#ff0000", "strokeWidth": 1, "opacity": 1}, "encoding": {"y": {"field": "v", "type": "quantitative"}}}
     ]},
    {"mark": {"type": "point", "opacity": 0}, "encoding": {"x": {"field": "n", "type": "nominal", "axis": {"orient": "top", "labels": false, "title": null}}}}
   ],
   "resolve": {"axis": {"x": "independent", "y": "independent"}}}
]
}
